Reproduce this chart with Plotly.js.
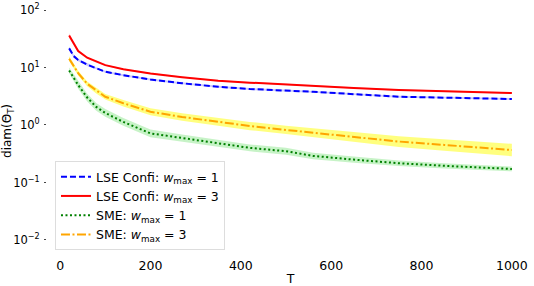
<!DOCTYPE html>
<html>
<head>
<meta charset="utf-8">
<script src="https://cdn.plot.ly/plotly-3.0.1.min.js"></script>
<style>html,body{margin:0;padding:0;background:#fff;}#chart{width:534px;height:286px;}</style>
</head>
<body>
<div id="chart"></div>
<script>
// Horizon T
const T = [20, 30, 40, 60, 80, 100, 140, 200, 270, 350, 420, 500, 560, 650, 750, 850, 1000];
// diam(Theta_T) means
const lseW1 = [21.5, 15.8, 13.5, 11.2, 9.7, 8.45, 7.35, 6.18, 5.32, 4.62, 4.23, 3.98, 3.78, 3.44, 3.1, 2.99, 2.83];
const lseW3 = [36, 26, 19.4, 14.8, 12.6, 11.0, 9.3, 7.87, 6.78, 5.88, 5.45, 5.02, 4.75, 4.42, 4.06, 3.88, 3.6];
const smeW1 = [8.9, 6.7, 4.95, 3.0, 2.06, 1.62, 1.13, 0.715, 0.59, 0.48, 0.40, 0.35, 0.29, 0.25, 0.216, 0.195, 0.172];
const smeW3 = [14.2, 10.9, 8.0, 5.2, 3.95, 3.1, 2.39, 1.70, 1.38, 1.13, 0.96, 0.82, 0.73, 0.62, 0.515, 0.45, 0.367];
// multiplicative half-widths of the shaded bands
const lseW1Spread = [1.08, 1.06, 1.05, 1.05, 1.04, 1.04, 1.04, 1.04, 1.04, 1.04, 1.04, 1.04, 1.04, 1.04, 1.04, 1.04, 1.04];
const lseW3Spread = [1.10, 1.06, 1.05, 1.04, 1.04, 1.03, 1.03, 1.03, 1.03, 1.03, 1.03, 1.03, 1.03, 1.03, 1.03, 1.03, 1.03];
const smeW1Spread = [1.12, 1.15, 1.16, 1.17, 1.17, 1.17, 1.17, 1.17, 1.16, 1.15, 1.15, 1.15, 1.14, 1.13, 1.12, 1.11, 1.10];
const smeW3Spread = [1.10, 1.10, 1.10, 1.10, 1.12, 1.12, 1.14, 1.15, 1.16, 1.17, 1.18, 1.18, 1.19, 1.22, 1.24, 1.26, 1.28];
// legend labels
const names = [
  'LSE Confi: <i>w</i><sub>max</sub> = 1',
  'LSE Confi: <i>w</i><sub>max</sub> = 3',
  'SME: <i>w</i><sub>max</sub> = 1',
  'SME: <i>w</i><sub>max</sub> = 3'
];
const yTickVals = [0.01, 0.1, 1, 10, 100];
const yTickText = ['10<sup>\u22122</sup>', '10<sup>\u22121</sup>', '10<sup>0</sup>', '10<sup>1</sup>', '10<sup>2</sup>'];
const xTickVals = [0, 200, 400, 600, 800, 1000];

const series = [
  {y: lseW1, s: lseW1Spread, color: '#0000ff', band: 'rgba(0,0,255,0.2)', dash: '6px,3px', name: names[0]},
  {y: lseW3, s: lseW3Spread, color: '#ff0000', band: 'rgba(255,0,0,0.2)', dash: 'solid', name: names[1]},
  {y: smeW1, s: smeW1Spread, color: '#008000', band: 'rgba(0,200,0,0.22)', dash: '2px,2.5px', name: names[2]},
  {y: smeW3, s: smeW3Spread, color: '#ffa500', band: 'rgba(255,255,0,0.5)', dash: '9px,2.5px,2px,2.5px', name: names[3]}
];

const traces = [];
series.forEach(function (d) {
  traces.push({x: T, y: d.y.map(function (v, i) { return v * d.s[i]; }), mode: 'lines',
    line: {width: 0, color: d.band}, showlegend: false, hoverinfo: 'skip'});
  traces.push({x: T, y: d.y.map(function (v, i) { return v / d.s[i]; }), mode: 'lines',
    line: {width: 0, color: d.band}, fill: 'tonexty', fillcolor: d.band, showlegend: false, hoverinfo: 'skip'});
});
series.forEach(function (d) {
  traces.push({x: T, y: d.y, mode: 'lines', name: d.name,
    line: {color: d.color, width: 2, dash: d.dash}});
});

const layout = {
  width: 534, height: 286,
  margin: {l: 47, r: 0, t: 10, b: 34},
  paper_bgcolor: '#fff', plot_bgcolor: '#fff',
  font: {family: 'DejaVu Sans', size: 12, color: '#000'},
  xaxis: {range: [-29, 1049], tickvals: xTickVals, showgrid: false, zeroline: false, showline: false,
    ticks: '', ticklabelstandoff: 4, tickfont: {size: 12.5},
    title: {text: 'T', font: {size: 12.5}, standoff: 5}},
  yaxis: {type: 'log', range: [-2.209, 2], tickvals: yTickVals, ticktext: yTickText,
    showgrid: false, zeroline: false, showline: false, ticks: 'outside', ticklen: 2, tickcolor: '#444',
    ticklabelstandoff: 2, tickfont: {size: 11.5},
    title: {text: 'diam(\u0398<sub>T</sub>)', font: {size: 12}, standoff: 2}},
  legend: {x: 0.0164, y: 0.008, xanchor: 'left', yanchor: 'bottom', bgcolor: 'rgba(255,255,255,0.8)',
    bordercolor: '#dddddd', borderwidth: 1, font: {size: 12.5}, tracegroupgap: 0, traceorder: 'normal'},
  showlegend: true
};

Plotly.newPlot('chart', traces, layout, {staticPlot: true, displayModeBar: false});
</script>
</body>
</html>
